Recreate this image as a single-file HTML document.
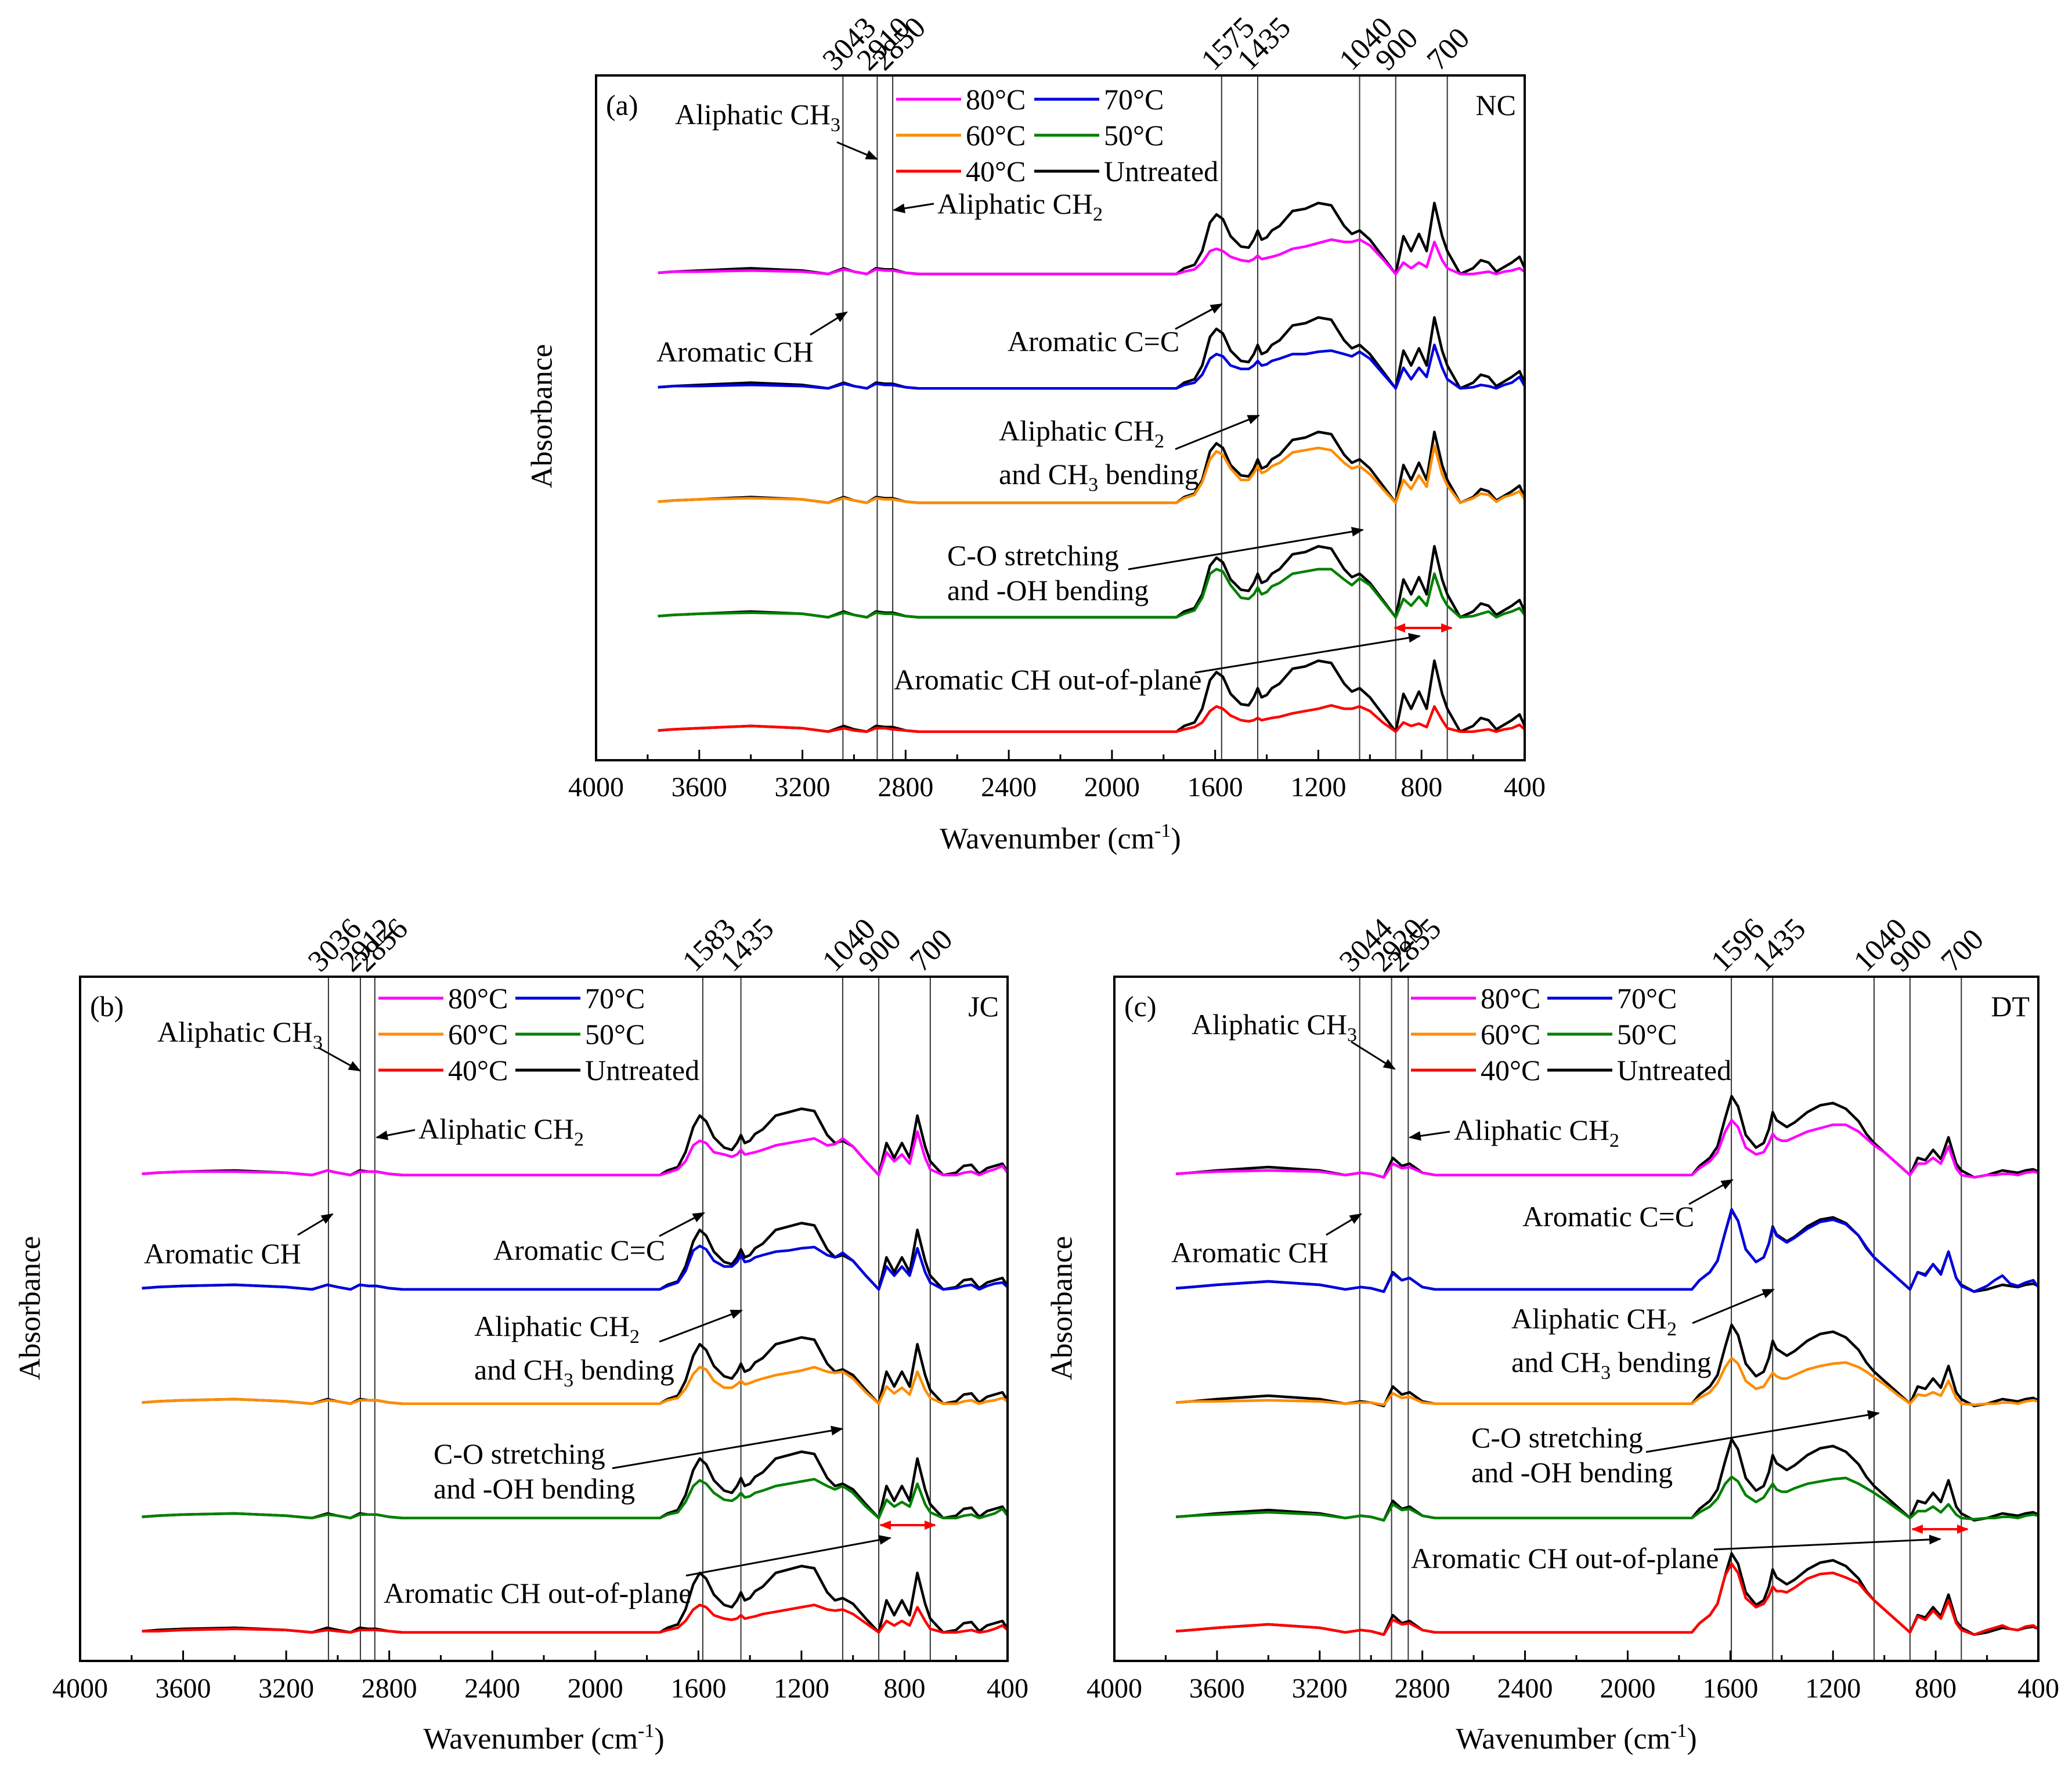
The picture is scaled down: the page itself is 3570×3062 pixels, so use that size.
<!DOCTYPE html>
<html><head><meta charset="utf-8">
<style>
html,body{margin:0;padding:0;background:#fff;}
svg{display:block;font-family:"Liberation Serif",serif;}
</style></head>
<body>
<svg id="fig" width="3570" height="3062" viewBox="0 0 3570 3062" xmlns="http://www.w3.org/2000/svg">
<defs>
<marker id="ah" viewBox="0 0 10 10" refX="9" refY="5" markerWidth="7" markerHeight="7" orient="auto-start-reverse"><path d="M0,1 L10,5 L0,9 z" fill="#000"/></marker>
<marker id="ahr" viewBox="0 0 10 10" refX="9" refY="5" markerWidth="5" markerHeight="5" orient="auto-start-reverse"><path d="M0,1 L10,5 L0,9 z" fill="#f00"/></marker>
</defs>
</svg>
<script>
const WN=[3760,3700,3600,3400,3200,3100,3040,3000,2950,2915,2880,2850,2800,2750,1750,1720,1680,1650,1620,1595,1570,1540,1500,1470,1450,1435,1420,1400,1380,1350,1300,1250,1200,1150,1100,1070,1040,1000,950,900,870,840,810,780,750,720,700,650,600,570,540,510,480,450,420,400];
const TICKS=[4000,3600,3200,2800,2400,2000,1600,1200,800,400];
const SERIES_NAMES=["40°C","50°C","60°C","70°C","80°C"];
const SERIES_COLORS=["#ff0000","#008000","#ff8c00","#0000e0","#ff00ff"];
// Panel (a) NC
const UA=[.01,.02,.03,.05,.03,0,.05,.02,0,.05,.04,.04,.01,0,0,.05,.08,.2,.45,.52,.48,.33,.24,.23,.3,.38,.3,.32,.38,.42,.55,.57,.62,.6,.42,.35,.38,.3,.15,0,.33,.2,.35,.2,.62,.33,.2,0,.05,.12,.1,.02,.06,.1,.15,.05];
const A40=[.01,.02,.03,.05,.03,0,.03,.01,0,.03,.03,.02,.01,0,0,.02,.04,.08,.18,.22,.2,.14,.1,.09,.1,.12,.1,.11,.12,.13,.16,.18,.2,.23,.2,.2,.22,.18,.08,0,.08,.05,.07,.04,.22,.1,.03,0,0,.01,.02,0,.02,.03,.06,.02];
const A50=[.01,.02,.03,.04,.03,0,.04,.02,0,.04,.03,.03,.01,0,0,.03,.06,.17,.38,.42,.4,.28,.17,.16,.2,.26,.2,.22,.27,.3,.38,.4,.42,.42,.33,.28,.34,.28,.14,0,.16,.1,.18,.1,.38,.18,.1,0,.01,.03,.05,0,.03,.05,.08,.02];
const A60=[.01,.02,.03,.04,.03,0,.04,.02,0,.04,.03,.03,.01,0,0,.04,.07,.18,.38,.45,.42,.3,.2,.2,.26,.32,.26,.28,.32,.35,.44,.46,.48,.46,.35,.3,.32,.25,.12,0,.2,.12,.24,.14,.5,.25,.15,0,.04,.08,.07,.01,.05,.07,.1,.03];
const A70=[.01,.02,.02,.03,.02,0,.04,.02,0,.04,.03,.03,.01,0,0,.03,.05,.12,.26,.3,.28,.2,.17,.17,.2,.24,.2,.21,.24,.26,.3,.3,.32,.33,.3,.28,.32,.26,.13,0,.18,.08,.18,.1,.38,.18,.08,0,.01,.03,.02,0,.03,.05,.1,.02];
const A80=[.01,.02,.02,.03,.02,0,.04,.02,0,.04,.03,.03,.01,0,0,.02,.04,.1,.2,.22,.2,.15,.12,.11,.13,.16,.13,.14,.15,.17,.22,.24,.27,.3,.28,.28,.3,.25,.13,0,.1,.05,.1,.06,.28,.12,.05,0,0,.01,.02,0,.02,.03,.05,.02];
// Panel (b) JC
const UB=[.01,.02,.03,.04,.02,0,.04,.02,0,.04,.03,.03,.01,0,0,.04,.07,.2,.42,.52,.47,.33,.24,.22,.28,.35,.28,.3,.36,.4,.52,.55,.58,.56,.35,.28,.3,.25,.12,0,.28,.15,.28,.15,.52,.25,.12,0,.02,.08,.09,.01,.06,.08,.1,.03];
const B40=[.01,.01,.02,.03,.02,0,.02,.01,0,.02,.02,.02,.01,0,0,.02,.04,.1,.2,.24,.22,.15,.12,.11,.12,.15,.12,.13,.14,.16,.18,.2,.22,.24,.2,.19,.2,.16,.08,0,.1,.06,.1,.06,.22,.1,.03,0,0,.01,.02,0,.01,.03,.06,.02];
const B50=[.01,.02,.03,.04,.02,0,.03,.02,0,.03,.03,.03,.01,0,0,.03,.05,.14,.28,.33,.3,.22,.16,.15,.18,.22,.18,.19,.22,.24,.28,.3,.32,.34,.28,.25,.28,.22,.1,0,.16,.1,.14,.1,.3,.12,.05,0,0,.02,.03,0,.02,.04,.08,.02];
const B60=[.01,.02,.03,.04,.02,0,.03,.02,0,.03,.03,.03,.01,0,0,.03,.05,.13,.26,.32,.3,.2,.14,.14,.17,.2,.17,.18,.2,.22,.25,.27,.29,.32,.28,.27,.28,.22,.1,0,.15,.09,.14,.08,.28,.12,.05,0,0,.02,.03,0,.02,.03,.05,.02];
const B70=[.01,.02,.03,.04,.02,0,.04,.02,0,.04,.03,.03,.01,0,0,.03,.06,.16,.34,.38,.35,.25,.2,.2,.24,.3,.24,.25,.28,.3,.33,.34,.36,.37,.3,.28,.32,.25,.12,0,.2,.12,.2,.12,.36,.15,.06,0,.01,.03,.04,0,.03,.05,.06,.02];
const B80=[.01,.02,.03,.03,.02,0,.04,.02,0,.03,.03,.03,.01,0,0,.02,.05,.12,.26,.3,.28,.2,.18,.16,.18,.22,.18,.19,.2,.22,.26,.28,.3,.32,.26,.27,.32,.25,.12,0,.2,.12,.18,.1,.38,.15,.05,0,0,.02,.03,0,.03,.05,.08,.02];
// Panel (c) DT
const UC=[.01,.02,.04,.07,.04,0,.02,.01,-.02,.15,.08,.1,.02,0,0,.08,.15,.25,.5,.69,.6,.35,.24,.28,.4,.55,.48,.45,.42,.46,.55,.61,.63,.58,.47,.36,.28,.2,.1,0,.15,.13,.22,.14,.33,.1,.04,-.02,0,.02,.04,.03,.02,.04,.05,.03];
const C40=[.01,.02,.04,.07,.04,0,.02,.01,-.02,.11,.07,.08,.02,0,0,.08,.15,.25,.5,.6,.52,.3,.22,.25,.32,.4,.36,.36,.35,.39,.47,.51,.52,.48,.43,.35,.28,.2,.1,0,.14,.11,.19,.12,.28,.08,.02,-.02,.02,.04,.06,.03,.02,.05,.06,.03];
const C50=[.01,.02,.03,.05,.03,0,.02,.01,-.02,.12,.07,.08,.02,0,0,.05,.1,.17,.3,.36,.32,.2,.14,.18,.25,.3,.25,.23,.23,.26,.3,.32,.34,.35,.3,.26,.22,.16,.08,0,.06,.06,.1,.05,.12,.03,0,-.01,0,0,.01,.01,0,.02,.03,.02];
const C60=[.01,.02,.02,.03,.02,0,.01,.01,-.01,.09,.05,.06,.01,0,0,.05,.1,.18,.32,.4,.35,.2,.13,.15,.22,.27,.24,.22,.22,.25,.3,.33,.35,.36,.32,.28,.23,.17,.08,0,.08,.07,.1,.07,.2,.05,0,-.01,0,0,.01,.01,0,.02,.03,.02];
const C70=[.01,.02,.04,.07,.04,0,.02,.01,-.02,.14,.08,.1,.02,0,0,.08,.15,.25,.5,.7,.6,.35,.24,.28,.4,.54,.47,.44,.41,.45,.53,.59,.61,.57,.47,.37,.28,.2,.1,0,.15,.12,.22,.13,.33,.1,.03,-.02,.03,.08,.12,.05,.03,.06,.08,.02];
const C80=[.01,.02,.03,.04,.03,0,.02,.01,-.02,.1,.06,.07,.02,0,0,.06,.12,.2,.38,.48,.42,.24,.18,.2,.28,.36,.32,.3,.3,.33,.38,.41,.44,.44,.38,.32,.26,.2,.1,0,.1,.1,.15,.1,.25,.06,0,-.02,0,0,.01,.01,0,.02,.03,.02];
const LINES_A=[3043,2910,2850,1575,1435,1040,900,700];
const LINES_B=[3036,2912,2856,1583,1435,1040,900,700];
const LINES_C=[3044,2920,2855,1596,1435,1040,900,700];

const NS="http://www.w3.org/2000/svg";
const svg=document.getElementById('fig');
function mk(tag,attrs,parent,text){const e=document.createElementNS(NS,tag);for(const k in attrs)e.setAttribute(k,attrs[k]);if(text!==undefined)e.textContent=text;(parent||svg).appendChild(e);return e;}

const panels=[
 {id:'a',L:1027,R:2627,T:130,B:1310,tag:'(a)',name:'NC',U:UA,S:[A40,A50,A60,A70,A80],lines:LINES_A,absX:934,absY:717,tickY:1370,titleY:1462,
  legX:1544,legX2:1782,legY:171,
  ann:{ch3:[1163,197,1442,245,1511,274],ch2:[1615,351,1609,351,1540,362],arch:[1131,606,1396,577,1459,538],cc:[1736,588,2025,567,2105,524],
  bend:[1721,742,2025,774,2169,716],co:[1632,957,1944,981,2348,913],red:[2403,2501,1082],oop:[1540,1171,2059,1159,2446,1096]}},
 {id:'b',L:138,R:1736,T:1683,B:2862,tag:'(b)',name:'JC',U:UB,S:[B40,B50,B60,B70,B80],lines:LINES_B,absX:52,absY:2254,tickY:2923,titleY:3013,
  legX:652,legX2:888,legY:1720,
  ann:{ch3:[271,1778,548,1805,620,1845],ch2:[721,1945,715,1947,649,1960],arch:[248,2160,513,2128,573,2092],cc:[850,2154,1136,2130,1213,2090],
  bend:[817,2285,1136,2312,1278,2258],co:[747,2505,1055,2530,1451,2462],red:[1517,1611,2628],oop:[661,2745,1182,2715,1534,2650]}},
 {id:'c',L:1920,R:3512,T:1683,B:2862,tag:'(c)',name:'DT',U:UC,S:[C40,C50,C60,C70,C80],lines:LINES_C,absX:1830,absY:2254,tickY:2923,titleY:3013,
  legX:2431,legX2:2666,legY:1720,
  ann:{ch3:[2053,1765,2328,1795,2403,1842],ch2:[2505,1947,2498,1950,2429,1960],arch:[2018,2158,2285,2128,2345,2092],cc:[2623,2096,2910,2075,2985,2033],
  bend:[2604,2272,2916,2280,3056,2222],co:[2535,2477,2836,2502,3237,2435],red:[3295,3390,2635],oop:[2431,2685,2953,2670,3343,2652]}}
];

const FS=50;
panels.forEach(p=>{
 const g=mk('g',{});
 
 
 const X=wn=>p.L+(4000-wn)/3600*(p.R-p.L);
 const Y=v=>p.B-(v+0.25)*(p.B-p.T)/5.985;
 p.lines.forEach(w=>{
  const l=mk('line',{x1:X(w),x2:X(w),y1:p.T,y2:p.B,stroke:'#333','stroke-width':2},g);
  
  
  const tx=X(w)-14, ty=p.T-6;
  const t=mk('text',{x:tx,y:ty,'font-size':52,transform:`rotate(-45 ${tx} ${ty})`},g,String(w));
  
  
 });
 for(let k=0;k<5;k++){
  const dB=WN.map((w,i)=>(i?'L':'M')+X(w).toFixed(1)+','+Y(k+p.U[i]).toFixed(1)).join('');
  const pb=mk('path',{d:dB,fill:'none',stroke:'#000','stroke-width':4.5,'stroke-linejoin':'round'},g);
  
  
  const s=p.S[k];
  const dC=WN.map((w,i)=>(i?'L':'M')+X(w).toFixed(1)+','+Y(k+s[i]).toFixed(1)).join('');
  const pc=mk('path',{d:dC,fill:'none',stroke:SERIES_COLORS[k],'stroke-width':4.5,'stroke-linejoin':'round'},g);
  
  
 }
 const fr=mk('rect',{x:p.L,y:p.T,width:p.R-p.L,height:p.B-p.T,fill:'none',stroke:'#000','stroke-width':4},g);
 
 
 TICKS.forEach(w=>{
  const tk=mk('line',{x1:X(w),x2:X(w),y1:p.B,y2:p.B-18,stroke:'#000','stroke-width':3},g);
  
  
  const tl=mk('text',{x:X(w),y:p.tickY+2,'font-size':48,'text-anchor':'middle'},g,String(w));
  
  
  if(w>400){
   const mw=w-200;
   const mt=mk('line',{x1:X(mw),x2:X(mw),y1:p.B,y2:p.B-10,stroke:'#000','stroke-width':3},g);
   
   
  }
 });
 const xt=mk('text',{x:(p.L+p.R)/2,y:p.titleY,'font-size':52,'text-anchor':'middle'},g);
 
 
 xt.innerHTML='Wavenumber (cm<tspan font-size="34" dy="-20">-1</tspan><tspan dy="20">)</tspan>';
 const yt=mk('text',{x:p.absX,y:p.absY,'font-size':52,'text-anchor':'middle',transform:`rotate(-90 ${p.absX} ${p.absY})`,'dominant-baseline':'central'},g,'Absorbance');
 
 
 const tg=mk('text',{x:p.L+17,y:p.T+68,'font-size':FS},g,p.tag);
 
 
 const nm=mk('text',{x:p.R-15,y:p.T+68,'font-size':FS,'text-anchor':'end'},g,p.name);
 
 
 const legOrder=[[4,'80°C',0,0],[3,'70°C',1,0],[2,'60°C',0,1],[1,'50°C',1,1],[0,'40°C',0,2],[-1,'Untreated',1,2]];
 legOrder.forEach(([k,lab,col,row])=>{
  const lx=col?p.legX2:p.legX, ly=p.legY+row*62;
  const ll=mk('line',{x1:lx,x2:lx+112,y1:ly,y2:ly,stroke:k<0?'#000':SERIES_COLORS[k],'stroke-width':5},g);
  
  
  const lt=mk('text',{x:lx+120,y:ly+17,'font-size':FS},g,lab);
  
  
 });
 const a=p.ann;
 function arrow(x1,y1,x2,y2,name){const l=mk('line',{x1,y1,x2,y2,stroke:'#000','stroke-width':3,'marker-end':'url(#ah)'},g);}
 let t;
 t=mk('text',{x:a.ch3[0],y:a.ch3[1]+17,'font-size':FS},g);t.innerHTML='Aliphatic CH<tspan font-size="34" dy="12">3</tspan>';
 
 arrow(a.ch3[2],a.ch3[3],a.ch3[4],a.ch3[5],'arrow-aliphatic-ch3');
 t=mk('text',{x:a.ch2[0],y:a.ch2[1]+17,'font-size':FS},g);t.innerHTML='Aliphatic CH<tspan font-size="34" dy="12">2</tspan>';
 
 arrow(a.ch2[2],a.ch2[3],a.ch2[4],a.ch2[5],'arrow-aliphatic-ch2');
 t=mk('text',{x:a.arch[0],y:a.arch[1]+17,'font-size':FS},g,'Aromatic CH');
 
 arrow(a.arch[2],a.arch[3],a.arch[4],a.arch[5],'arrow-aromatic-ch');
 t=mk('text',{x:a.cc[0],y:a.cc[1]+17,'font-size':FS},g,'Aromatic C=C');
 
 arrow(a.cc[2],a.cc[3],a.cc[4],a.cc[5],'arrow-aromatic-cc');
 t=mk('text',{x:a.bend[0],y:a.bend[1]+17,'font-size':FS},g);t.innerHTML='Aliphatic CH<tspan font-size="34" dy="12">2</tspan>';
 
 t=mk('text',{x:a.bend[0],y:a.bend[1]+92,'font-size':FS},g);t.innerHTML='and CH<tspan font-size="34" dy="12">3</tspan><tspan dy="-12"> bending</tspan>';
 
 arrow(a.bend[2],a.bend[3],a.bend[4],a.bend[5],'arrow-bending');
 t=mk('text',{x:a.co[0],y:a.co[1]+17,'font-size':FS},g,'C-O stretching');
 
 t=mk('text',{x:a.co[0],y:a.co[1]+77,'font-size':FS},g,'and -OH bending');
 
 arrow(a.co[2],a.co[3],a.co[4],a.co[5],'arrow-co');
 const rl=mk('line',{x1:a.red[0],x2:a.red[1],y1:a.red[2],y2:a.red[2],stroke:'#f00','stroke-width':4,'marker-start':'url(#ahr)','marker-end':'url(#ahr)'},g);
 
 t=mk('text',{x:a.oop[0],y:a.oop[1]+17,'font-size':FS},g,'Aromatic CH out-of-plane');
 
 arrow(a.oop[2],a.oop[3],a.oop[4],a.oop[5],'arrow-out-of-plane');
});
</script>
</body></html>
